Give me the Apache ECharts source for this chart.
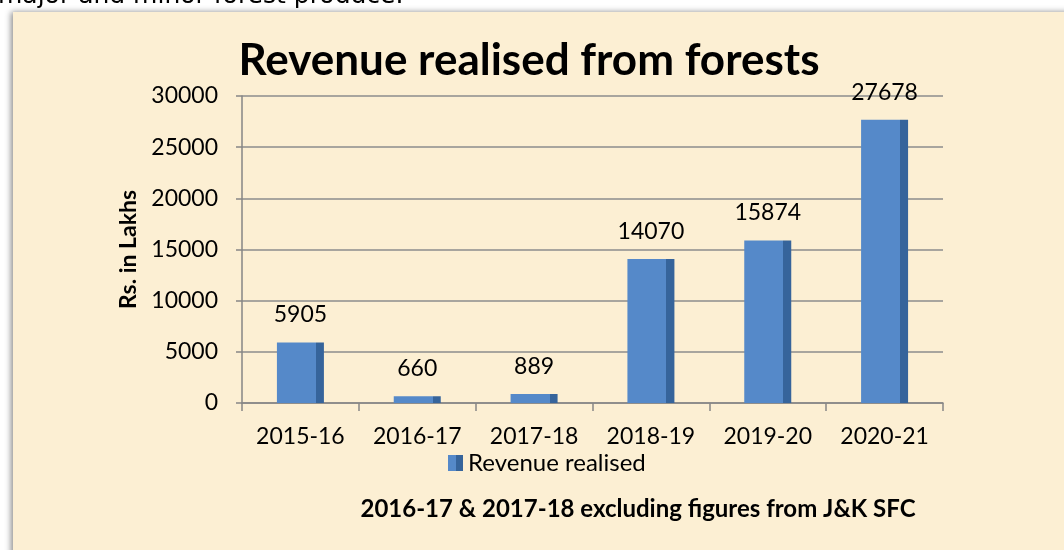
<!DOCTYPE html>
<html>
<head>
  <title>Revenue realised from forests</title>
  <meta http-equiv="Content-Type" content="text/html; charset=utf-8">
  <script src="https://cdn.jsdelivr.net/npm/echarts@6/dist/echarts.min.js"></script>
  <style>
    html, body { margin: 0; padding: 0; background: #fff; }
  </style>
</head>
<body>
  <div id="chart" style="width: 1064px;height:550px;"></div>
  <script type="application/javascript">
      // data
      var years = ['2015-16', '2016-17', '2017-18', '2018-19', '2019-20', '2020-21'];
      var revenue = [5905, 660, 889, 14070, 15874, 27678];
      var seriesName = 'Revenue realised';

      var lightBlue = '#5589c9';
      var darkBlue = '#36649b';
      var font = 'Lato';

      // front face + darker side face of the excel 3d bar
      var barColor = new echarts.graphic.LinearGradient(0, 0, 1, 0, [
          {offset: 0, color: lightBlue},
          {offset: 0.83, color: lightBlue},
          {offset: 0.83, color: darkBlue},
          {offset: 1, color: darkBlue}
      ]);
      var iconColor = new echarts.graphic.LinearGradient(0, 0, 1, 0, [
          {offset: 0, color: lightBlue},
          {offset: 0.5, color: lightBlue},
          {offset: 0.5, color: darkBlue},
          {offset: 1, color: darkBlue}
      ]);

      var myChart = echarts.init(document.getElementById('chart'));
      myChart.setOption({
          backgroundColor: '#fff',
          animation: false,
          title: {
              text: 'Revenue realised from forests',
              left: 524,
              top: 34,
              textAlign: 'center',
              textStyle: {
                  fontFamily: font,
                  fontSize: 44,
                  fontWeight: 'bold',
                  color: '#000'
              }
          },
          legend: {
              left: 443,
              top: 446,
              itemWidth: 15,
              itemHeight: 16,
              icon: 'rect',
              data: [{name: seriesName, itemStyle: {color: iconColor}}],
              textStyle: {fontFamily: font, fontSize: 24, color: '#000'}
          },
          grid: {
              left: 242,
              right: 121,
              top: 96,
              bottom: 147
          },
          xAxis: {
              type: 'category',
              data: years,
              axisLine: {lineStyle: {color: '#868686', width: 1.5}},
              axisTick: {show: true, length: 8, lineStyle: {color: '#868686', width: 1.5}},
              axisLabel: {fontFamily: font, fontSize: 23, color: '#000', margin: 22}
          },
          yAxis: {
              type: 'value',
              min: 0,
              max: 30000,
              interval: 5000,
              name: 'Rs. in Lakhs',
              nameLocation: 'middle',
              nameGap: 102,
              nameTextStyle: {fontFamily: font, fontSize: 23, fontWeight: 'bold', color: '#000'},
              axisLine: {show: true, lineStyle: {color: '#868686', width: 1.5}},
              axisTick: {show: true, length: 6, lineStyle: {color: '#868686', width: 1.5}},
              axisLabel: {
                  fontFamily: font,
                  fontSize: 23,
                  color: '#000',
                  margin: 24,
                  formatter: function (v) { return String(v); }
              },
              splitLine: {lineStyle: {color: '#8c8c8c', width: 1.5}}
          },
          series: [
              {
                  name: seriesName,
                  type: 'bar',
                  data: revenue,
                  barWidth: 47,
                  itemStyle: {color: barColor},
                  label: {
                      show: true,
                      position: 'top',
                      distance: 16,
                      fontFamily: font,
                      fontSize: 23,
                      color: '#000'
                  }
              }
          ],
          graphic: {
              elements: [
                  {
                      type: 'rect',
                      z: -10,
                      shape: {x: 13, y: 12, width: 1060, height: 545},
                      style: {
                          fill: '#fcefd3',
                          shadowBlur: 6,
                          shadowOffsetX: -2,
                          shadowColor: 'rgba(0,0,0,0.45)'
                      }
                  },
                  {
                      type: 'text',
                      left: -2,
                      top: -16,
                      style: {
                          text: 'major and minor forest produce.',
                          font: '25px "DejaVu Sans"',
                          fill: '#000'
                      }
                  },
                  {
                      type: 'text',
                      x: 638,
                      y: 509,
                      style: {
                          text: '2016-17 & 2017-18 excluding figures from J&K SFC',
                          font: 'bold 24px Lato',
                          fill: '#000',
                          align: 'center',
                          verticalAlign: 'middle'
                      }
                  }
              ]
          }
      });
  </script>
</body>
</html>
